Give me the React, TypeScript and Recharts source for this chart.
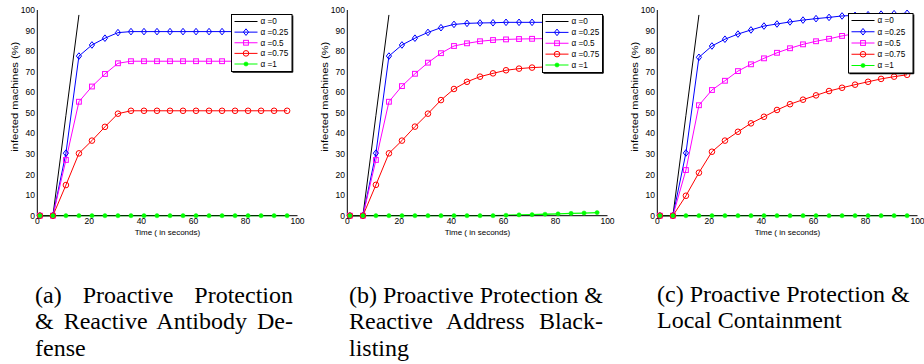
import React from 'react';
import { LineChart, Line, XAxis, YAxis, Legend } from 'recharts';

// ---------- data ----------
const TIME = [1, 6, 11, 16, 21, 26, 31, 36, 41, 46, 51, 56, 61, 66, 71, 76, 81, 86, 91, 96];
const X_TICKS = [0, 20, 40, 60, 80, 100];
const Y_TICKS = [0, 10, 20, 30, 40, 50, 60, 70, 80, 90, 100];

const SERIES_KEYS = ['s0', 's1', 's2', 's3', 's4'];
const SERIES_LABELS = ['α =0', 'α =0.25', 'α =0.5', 'α =0.75', 'α =1'];
const SERIES_COLORS = ['#000000', '#0000ff', '#ff00ff', '#ff0000', '#00ff00'];
const SERIES_MARKERS = ['none', 'diamond', 'square', 'circle', 'dot'];

// (a) Proactive Protection & Reactive Antibody Defense
const A_ALPHA_0 = [0, 0, 48.8, 97.6];
const A_ALPHA_025 = [0, 0, 30.4, 77.6, 83, 86.3, 89, 89.5, 89.5, 89.5, 89.5, 89.5, 89.5, 89.5, 89.5, 89.5, 89.5, 89.5, 89.5, 89.5];
const A_ALPHA_05 = [0, 0, 27.1, 55.4, 62.8, 68.9, 74.1, 75.1, 75.1, 75.1, 75.1, 75.1, 75.1, 75.1, 75.1, 75.1, 75.1, 75.1, 75.1, 75.1];
const A_ALPHA_075 = [0, 0, 14.9, 30.3, 36.5, 43.2, 49.6, 51, 51, 51, 51, 51, 51, 51, 51, 51, 51, 51, 51, 51];
const A_ALPHA_1 = [0, 0, 0, 0, 0, 0, 0, 0, 0, 0, 0, 0, 0, 0, 0, 0, 0, 0, 0, 0];

// (b) Proactive Protection & Reactive Address Blacklisting
const B_ALPHA_0 = [0, 0, 48.8, 97.6];
const B_ALPHA_025 = [0, 0, 30.4, 77.6, 83, 86.3, 89.1, 91.4, 93, 93.5, 93.7, 93.8, 94, 94, 94, 94, 94, 94, 94, 94];
const B_ALPHA_05 = [0, 0, 27.1, 55.4, 63, 69, 74.4, 79, 82.5, 83.8, 84.8, 85.4, 85.7, 85.9, 86, 86.1, 86.2, 86.2, 86.3, 86.3];
const B_ALPHA_075 = [0, 0, 15, 30.3, 36.5, 43.3, 49.6, 56.2, 61.6, 65.1, 67.6, 69.2, 70.7, 71.5, 72, 72.3, 72.5, 72.6, 72.7, 72.8];
const B_ALPHA_1 = [0, 0, 0, 0, 0, 0, 0, 0, 0, 0, 0, 0, 0.2, 0.4, 0.5, 0.7, 0.9, 1.1, 1.3, 1.5];

// (c) Proactive Protection & Local Containment
const C_ALPHA_0 = [0, 0, 48.8, 97.6];
const C_ALPHA_025 = [0, 0, 30.5, 77, 82.5, 85.8, 88.3, 90.3, 92.2, 93.2, 94.2, 95.1, 95.8, 96.4, 97.1, 97.4, 97.7, 98, 98.2, 98.4];
const C_ALPHA_05 = [0, 0, 22.2, 53.7, 61.1, 65.6, 70.3, 73.6, 76.5, 79.2, 81.4, 83.3, 84.8, 86, 87.4, 88.5, 89.3, 90.1, 90.8, 91.5];
const C_ALPHA_075 = [0, 0, 9.7, 20.9, 31.1, 36.5, 40.8, 44.9, 48.1, 51.4, 54.2, 56.4, 58.5, 60.6, 62.2, 63.7, 65.1, 66.5, 67.6, 68.5];
const C_ALPHA_1 = [0, 0, 0, 0, 0, 0, 0, 0, 0, 0, 0, 0, 0, 0, 0, 0, 0, 0, 0, 0];

const CAPTION_A = ['(a) Proactive Protection', '& Reactive Antibody De-', 'fense'];
const CAPTION_B = ['(b) Proactive Protection &', 'Reactive Address Black-', 'listing'];
const CAPTION_C = ['(c) Proactive Protection &', 'Local Containment'];

const X_LABEL = 'Time ( in seconds)';
const Y_LABEL = 'infected machines (%)';

// ---------- helpers ----------
const buildRows = (series: (number | null)[][]) =>
  TIME.map((t, i) => {
    const row: Record<string, number | null> = { t };
    SERIES_KEYS.forEach((k, j) => {
      const v = series[j][i];
      row[k] = v === undefined ? null : v;
    });
    return row;
  });

const SANS = '"Liberation Sans", Arial, sans-serif';
const SERIF = '"Liberation Serif", "Times New Roman", serif';

function Marker({ kind, cx, cy, color }: { kind: string; cx: number; cy: number; color: string }) {
  if (kind === 'diamond') {
    return (
      <path
        d={`M${cx},${cy - 3.3}L${cx + 2.6},${cy}L${cx},${cy + 3.3}L${cx - 2.6},${cy}Z`}
        fill="none"
        stroke={color}
        strokeWidth={1}
      />
    );
  }
  if (kind === 'square') {
    return <rect x={cx - 2.4} y={cy - 2.4} width={4.8} height={4.8} fill="none" stroke={color} strokeWidth={1} />;
  }
  if (kind === 'circle') {
    return <circle cx={cx} cy={cy} r={2.8} fill="none" stroke={color} strokeWidth={1} />;
  }
  if (kind === 'dot') {
    return <circle cx={cx} cy={cy} r={2.1} fill={color} stroke={color} strokeWidth={0.5} />;
  }
  return null;
}

const makeDot = (kind: string, color: string) => (props: any) => {
  const { cx, cy, index } = props;
  if (cx == null || cy == null || props.value == null) return <g key={`d-${index}`} />;
  return (
    <g key={`d-${index}`}>
      <Marker kind={kind} cx={cx} cy={cy} color={color} />
    </g>
  );
};

const xLabelContent = (props: any) => {
  const vb = props.viewBox || {};
  return (
    <text
      x={vb.x + vb.width / 2}
      y={vb.y + 19.3}
      textAnchor="middle"
      fontFamily={SANS}
      fontSize={8}
      fill="#000"
    >
      {X_LABEL}
    </text>
  );
};

const yLabelContent = (props: any) => {
  const vb = props.viewBox || {};
  const cx = vb.x + 7.7;
  const cy = vb.y + 86.7;
  return (
    <text
      x={cx}
      y={cy}
      transform={`rotate(-90, ${cx}, ${cy})`}
      textAnchor="middle"
      dominantBaseline="central"
      fontFamily={SANS}
      fontSize={8.3}
      textLength={110}
      lengthAdjust="spacingAndGlyphs"
      fill="#000"
    >
      {Y_LABEL}
    </text>
  );
};

const makeLegend = (w: number, h: number) => (props: any) => {
  const payload = [...(props.payload || [])].sort(
    (a: any, b: any) => SERIES_LABELS.indexOf(a.value) - SERIES_LABELS.indexOf(b.value)
  );
  const rowGap = (h - 14.5) / 4;
  return (
    <svg width={w + 2} height={h + 2} style={{ display: 'block', overflow: 'visible' }}>
      <rect x={0.5} y={0.5} width={w} height={h} fill="#fff" stroke="#000" strokeWidth={1} />
      <line x1={w + 1.2} y1={1.5} x2={w + 1.2} y2={h + 1.2} stroke="#000" strokeWidth={1.2} />
      <line x1={1.5} y1={h + 1.2} x2={w + 1.2} y2={h + 1.2} stroke="#000" strokeWidth={1.2} />
      {payload.map((entry: any, i: number) => {
        const idx = SERIES_LABELS.indexOf(entry.value);
        const y = 7.5 + i * rowGap;
        const color = entry.color || SERIES_COLORS[idx];
        return (
          <g key={entry.value}>
            <line x1={3.5} y1={y} x2={26.5} y2={y} stroke={color} strokeWidth={1} />
            <Marker kind={SERIES_MARKERS[idx]} cx={15} cy={y} color={color} />
            <text x={29.5} y={y + 2.9} fontFamily={SANS} fontSize={8.2} fill="#000">
              {entry.value}
            </text>
          </g>
        );
      })}
    </svg>
  );
};

const tickStyle = { fill: '#000', fontSize: 8.5, fontFamily: SANS };

function Panel({
  left,
  series,
  legendBox,
}: {
  left: number;
  series: (number | null)[][];
  legendBox: { left: number; top: number; w: number; h: number };
}) {
  const rows = buildRows(series);
  return (
    <div style={{ position: 'absolute', left, top: 0 }}>
      <LineChart width={310} height={250} data={rows} margin={{ top: 10, right: 12.5, left: 7.3, bottom: 14.3 }}>
        <XAxis
          xAxisId="x"
          dataKey="t"
          type="number"
          domain={[0, 100]}
          ticks={X_TICKS}
          interval={0}
          tickLine={false}
          tickSize={0}
          tickMargin={2.6}
          axisLine={{ stroke: '#000', strokeWidth: 1 }}
          height={20}
          tick={tickStyle}
          label={{ content: xLabelContent }}
        />
        <XAxis
          xAxisId="xb"
          dataKey="t"
          type="number"
          orientation="bottom"
          mirror
          domain={[0, 100]}
          ticks={X_TICKS}
          interval={0}
          tick={false}
          tickLine={{ stroke: '#000' }}
          tickSize={2.6}
          axisLine={false}
          height={0}
        />
        <XAxis
          xAxisId="xt"
          dataKey="t"
          type="number"
          orientation="top"
          mirror
          domain={[0, 100]}
          ticks={X_TICKS}
          interval={0}
          tick={false}
          tickLine={{ stroke: '#000' }}
          tickSize={2.6}
          axisLine={{ stroke: '#000', strokeWidth: 1 }}
          height={0}
        />
        <YAxis
          yAxisId="y"
          type="number"
          domain={[0, 100]}
          ticks={Y_TICKS}
          interval={0}
          width={30}
          tickLine={false}
          tickSize={0}
          tickMargin={2.4}
          axisLine={{ stroke: '#000', strokeWidth: 1 }}
          tick={tickStyle}
          label={{ content: yLabelContent }}
        />
        <YAxis
          yAxisId="yl"
          type="number"
          orientation="left"
          mirror
          domain={[0, 100]}
          ticks={Y_TICKS}
          interval={0}
          width={0}
          tick={false}
          tickLine={{ stroke: '#000' }}
          tickSize={2.6}
          axisLine={false}
        />
        <YAxis
          yAxisId="yr"
          type="number"
          orientation="right"
          mirror
          domain={[0, 100]}
          ticks={Y_TICKS}
          interval={0}
          width={0}
          tick={false}
          tickLine={{ stroke: '#000' }}
          tickSize={2.6}
          axisLine={{ stroke: '#000', strokeWidth: 1 }}
        />
        {SERIES_KEYS.map((k, j) => (
          <Line
            key={k}
            xAxisId="x"
            yAxisId="y"
            type="linear"
            dataKey={k}
            name={SERIES_LABELS[j]}
            stroke={SERIES_COLORS[j]}
            strokeWidth={j === 4 ? 1.3 : 1}
            dot={SERIES_MARKERS[j] === 'none' ? false : makeDot(SERIES_MARKERS[j], SERIES_COLORS[j])}
            activeDot={false}
            isAnimationActive={false}
            connectNulls={false}
          />
        ))}
        <Legend
          layout="vertical"
          align="center"
          verticalAlign="middle"
          wrapperStyle={{
            left: legendBox.left,
            top: legendBox.top,
            width: legendBox.w + 2,
            height: legendBox.h + 2,
            padding: 0,
            margin: 0,
            lineHeight: 0,
          }}
          content={makeLegend(legendBox.w, legendBox.h)}
        />
      </LineChart>
    </div>
  );
}

function Caption({
  left,
  top,
  width,
  lines,
  justified,
}: {
  left: number;
  top: number;
  width: number;
  lines: string[];
  justified: boolean[];
}) {
  return (
    <div
      style={{
        position: 'absolute',
        left,
        top,
        width,
        fontFamily: SERIF,
        fontSize: 24,
        lineHeight: '26.6px',
        color: '#000',
      }}
    >
      {lines.map((ln, i) => (
        <div
          key={i}
          style={{
            width: justified[i] ? width : 'auto',
            textAlign: justified[i] ? 'justify' : 'left',
            textAlignLast: justified[i] ? 'justify' : 'left',
            whiteSpace: 'nowrap',
          }}
        >
          {ln}
        </div>
      ))}
    </div>
  );
}

export default function App() {
  return (
    <div style={{ position: 'absolute', left: 0, top: 0, width: 924, height: 364, background: '#fff', overflow: 'hidden' }}>
      <Panel
        left={0}
        series={[A_ALPHA_0, A_ALPHA_025, A_ALPHA_05, A_ALPHA_075, A_ALPHA_1]}
        legendBox={{ left: 231, top: 14.3, w: 60.5, h: 57 }}
      />
      <Panel
        left={310.4}
        series={[B_ALPHA_0, B_ALPHA_025, B_ALPHA_05, B_ALPHA_075, B_ALPHA_1]}
        legendBox={{ left: 231.2, top: 13.5, w: 60, h: 58 }}
      />
      <Panel
        left={620.4}
        series={[C_ALPHA_0, C_ALPHA_025, C_ALPHA_05, C_ALPHA_075, C_ALPHA_1]}
        legendBox={{ left: 228, top: 13.3, w: 64.5, h: 59.5 }}
      />
      <Caption left={35} top={281.6} width={258} lines={CAPTION_A} justified={[true, true, false]} />
      <Caption left={349} top={281.6} width={254} lines={CAPTION_B} justified={[true, true, false]} />
      <Caption left={657} top={280.6} width={260} lines={CAPTION_C} justified={[false, false]} />
    </div>
  );
}
